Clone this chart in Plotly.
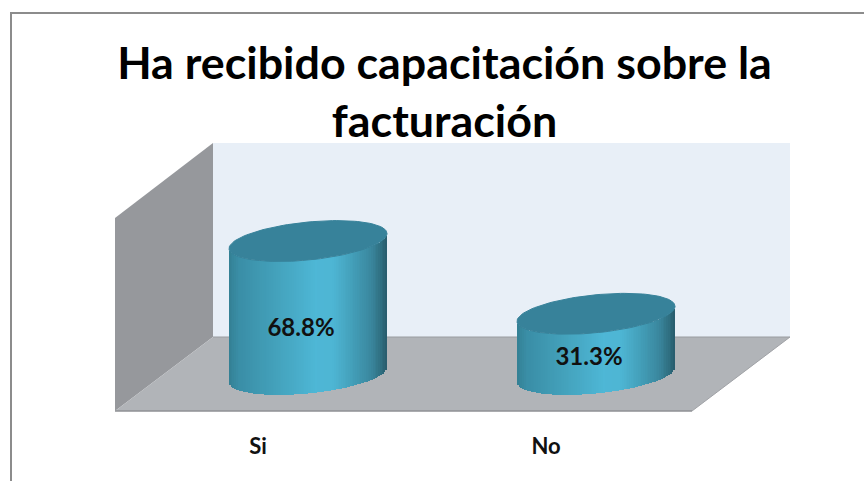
import numpy as np
import plotly.graph_objects as go

# ---- chart data ----
categories = ["Si", "No"]
values = [68.8, 31.3]
value_labels = ["68.8%", "31.3%"]
title_text = "Ha recibido capacitación sobre la<br>facturación"

# ---- layout constants (pixels in the 864x481 page) ----
W, H = 864, 481
PL, PR, PT, PB = 115, 790, 143, 412          # plot area
CX0, DX = 308, 288                           # first cylinder centre, spacing
BASE_PX, PX_PER_UNIT = 374.5, 1.94           # y=0 pixel, pixels per value unit
RX = 79 / DX                                 # cylinder half width (x units)
RY = 19 / PX_PER_UNIT                        # ellipse half height (y units)
SHEAR = 7.5 / PX_PER_UNIT                    # ellipse tilt (y units)
N = 90

X = lambda px: (px - CX0) / DX
Y = lambda py: (BASE_PX - py) / PX_PER_UNIT
PX = lambda px: (px - PL) / (PR - PL)
PY = lambda py: (PB - py) / (PB - PT)

stops = [0, .06, .3, .55, .66, .78, .9, .96, 1]
cols = np.array([[52, 128, 148], [58, 142, 166], [68, 162, 188], [78, 183, 214],
                 [78, 182, 212], [68, 160, 186], [58, 135, 158], [48, 112, 130], [40, 92, 108]])


def strip_colors(u):
    t = (u + 1) / 2
    return [f"rgb({int(np.interp(v, stops, cols[:, 0]))},{int(np.interp(v, stops, cols[:, 1]))},{int(np.interp(v, stops, cols[:, 2]))})" for v in t]


fig = go.Figure()
u = np.linspace(-1, 1, N + 1)
u = (u[:-1] + u[1:]) / 2
for i, (c, v) in enumerate(zip(categories, values)):
    front = SHEAR * u - RY * np.sqrt(1 - u ** 2)
    fig.add_trace(go.Bar(
        x=i + RX * u, y=np.full(N, v), base=front,
        width=np.full(N, 2 * RX / N * 1.2),
        marker=dict(color=strip_colors(u), line=dict(width=0)),
        showlegend=False, hoverinfo="skip", name=c))
    t = np.linspace(0, 2 * np.pi, 121)
    fig.add_trace(go.Scatter(
        x=i + RX * np.cos(t),
        y=v + SHEAR * np.cos(t) + RY * np.sin(t),
        mode="lines", fill="toself", fillcolor="#37829a",
        line=dict(color="#37829a", width=1), showlegend=False, hoverinfo="skip"))

fig.add_trace(go.Scatter(
    x=[i - 7 / DX for i in range(len(values))],
    y=[v * 0.4 - 4.4 for v in values],
    text=value_labels, mode="text", textposition="middle center",
    textfont=dict(family="Lato", size=24, color="#111111", weight="bold"),
    showlegend=False, hoverinfo="skip"))

shapes = [
    # back wall
    dict(type="rect", x0=X(213), x1=X(790), y0=Y(337), y1=Y(143), fillcolor="#e8eff7", line_width=0, layer="below"),
    # left wall
    dict(type="path", path=f"M {X(115)} {Y(218)} L {X(213)} {Y(143)} L {X(213)} {Y(337)} L {X(115)} {Y(411)} Z",
         fillcolor="#96989c", line_width=0, layer="below"),
    # floor
    dict(type="path", path=f"M {X(115)} {Y(411)} L {X(213)} {Y(337)} L {X(790)} {Y(337)} L {X(692)} {Y(411)} Z",
         fillcolor="#b1b4b8", line_width=0, layer="below"),
    # edges
    dict(type="line", x0=X(115), x1=X(692), y0=Y(411), y1=Y(411), line=dict(color="#8f9195", width=1.5), layer="below"),
    dict(type="line", x0=X(213), x1=X(790), y0=Y(337), y1=Y(337), line=dict(color="#9a9ca0", width=1), layer="below"),
    dict(type="line", x0=X(692), x1=X(790), y0=Y(411), y1=Y(337), line=dict(color="#a0a2a6", width=1), layer="below"),
    # outer frame
    dict(type="path", xref="paper", yref="paper",
         path=f"M {PX(11)} {PY(490)} L {PX(11)} {PY(13)} L {PX(880)} {PY(13)}",
         line=dict(color="#8c8c8c", width=2), layer="below"),
]

fig.update_layout(
    width=W, height=H,
    margin=dict(l=PL, r=W - PR, t=PT, b=H - PB, pad=0),
    paper_bgcolor="white", plot_bgcolor="rgba(0,0,0,0)",
    barmode="overlay", bargap=0,
    showlegend=False,
    shapes=shapes,
    title=dict(text=title_text, x=444.5 / W, xanchor="center", y=1 - 79 / H, yanchor="bottom",
               font=dict(family="Lato", size=44.8, color="#000000", weight="bold")),
    xaxis=dict(range=[X(PL), X(PR)], showgrid=False, zeroline=False, showline=False,
               tickmode="array", tickvals=[i - 50 / DX for i in range(len(categories))],
               ticktext=categories, ticks="outside", ticklen=15, tickcolor="rgba(0,0,0,0)",
               tickfont=dict(family="Lato", size=22, color="#111111", weight="bold")),
    yaxis=dict(range=[Y(PB), Y(PT)], visible=False),
)
fig.write_html("out.html", config=dict(displayModeBar=False),
               post_script="document.body.style.margin='0';document.body.style.overflow='hidden';")
